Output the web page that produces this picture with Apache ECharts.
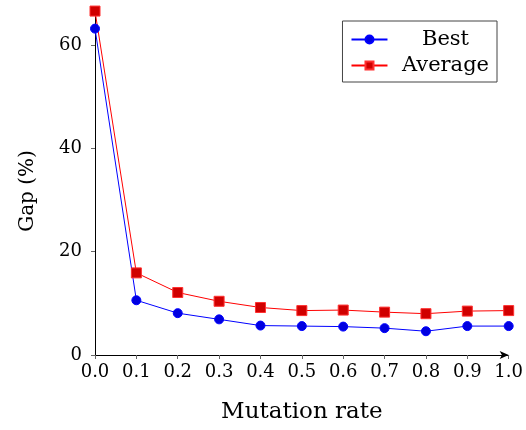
<!DOCTYPE html>
<html lang="en" style="background: #FFFFFF;height: 100%">
<head>
    <meta charset="utf-8" />
    <title>Gap vs mutation rate</title>
    <script type="text/javascript" src="https://cdn.jsdelivr.net/npm/echarts@6/dist/echarts.min.js"></script>
</head>
<body style="margin: 0;height: 100%">
    <div id="chart" style="width:526px;height:430px"></div>
    <script>
    // values
    let rates = [0.0, 0.1, 0.2, 0.3, 0.4, 0.5, 0.6, 0.7, 0.8, 0.9, 1.0]
    let bestGap = [63.2, 10.6, 8.1, 6.9, 5.7, 5.6, 5.5, 5.2, 4.6, 5.6, 5.6]
    let avgGap = [66.6, 15.9, 12.1, 10.4, 9.2, 8.6, 8.7, 8.3, 8.0, 8.5, 8.6]
    let yTicks = [0, 20, 40, 60]

    let font = 'DejaVu Serif'
    let chart = echarts.init(document.getElementById('chart'))

    chart.setOption({
        animation: false,
        grid: { left: 95, right: 16, top: 9, bottom: 75 },
        legend: {
            right: 29,
            top: 21,
            orient: 'vertical',
            itemWidth: 36,
            itemHeight: 10,
            itemGap: 5,
            padding: [8, 8, 6, 8],
            borderColor: '#444',
            borderWidth: 1,
            backgroundColor: '#fff',
            formatter: name => '{t|' + name + '}',
            textStyle: {
                rich: { t: { width: 106, height: 25, align: 'center', fontFamily: font, fontSize: 21, color: '#000' } }
            },
            data: ['Best', 'Average']
        },
        xAxis: {
            type: 'value',
            min: 0,
            max: 1,
            interval: 0.1,
            name: 'Mutation rate',
            nameLocation: 'middle',
            nameGap: 46,
            nameTextStyle: { fontFamily: font, fontSize: 23, color: '#000' },
            axisLine: { lineStyle: { color: '#000', width: 1 }, symbol: ['none', 'arrow'], symbolSize: [6, 9] },
            axisTick: { length: 4, lineStyle: { color: '#666' } },
            axisLabel: { fontFamily: font, fontSize: 18, color: '#000', margin: 8, formatter: v => v.toFixed(1) },
            splitLine: { show: false }
        },
        yAxis: {
            type: 'value',
            min: 0,
            max: 67,
            interval: 20,
            name: 'Gap (%)',
            nameLocation: 'middle',
            nameGap: 57,
            nameTextStyle: { fontFamily: font, fontSize: 20, color: '#000', padding: [0, 18, 0, 0] },
            axisLine: { show: true, lineStyle: { color: '#000', width: 1 } },
            axisTick: { show: true, length: 4, lineStyle: { color: '#666' } },
            axisLabel: {
                fontFamily: font, fontSize: 18, color: '#000', margin: 13,
                showMaxLabel: false,
                formatter: v => yTicks.indexOf(v) >= 0 ? String(v) : ''
            },
            splitLine: { show: false }
        },
        series: [
            {
                name: 'Best',
                type: 'line',
                data: rates.map((r, i) => [r, bestGap[i]]),
                symbol: 'circle',
                symbolSize: 9,
                lineStyle: { color: '#0000ff', width: 1 },
                itemStyle: { color: '#0000e0', borderColor: '#0000ff', borderWidth: 1 }
            },
            {
                name: 'Average',
                type: 'line',
                data: rates.map((r, i) => [r, avgGap[i]]),
                symbol: 'rect',
                symbolSize: 10,
                lineStyle: { color: '#ff0000', width: 1 },
                itemStyle: { color: '#d00000', borderColor: '#ff3030', borderWidth: 1 }
            }
        ]
    })
    </script>
</body>
</html>
